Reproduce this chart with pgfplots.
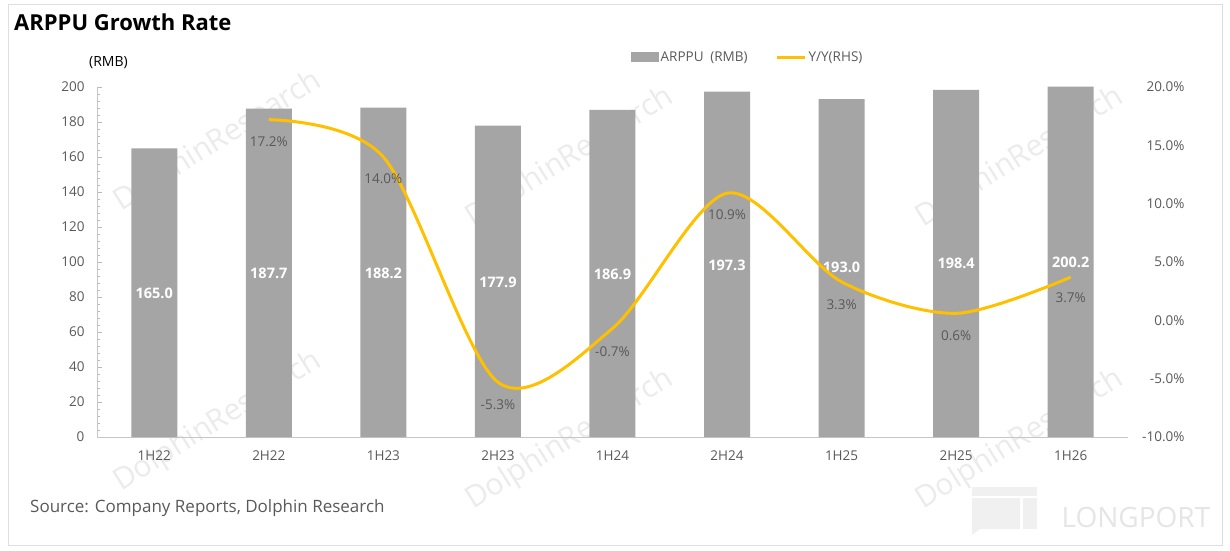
\documentclass[border=0pt]{standalone}
\usepackage{pgfplots}
\pgfplotsset{compat=1.18}
\usepackage{pgfplotstable}
\usepackage{fontspec}
\setmainfont{Open Sans}
\definecolor{bargray}{HTML}{A5A5A5}
\definecolor{gold}{HTML}{FFC000}
\definecolor{txt}{HTML}{595959}
\definecolor{wm}{HTML}{EBEBEB}
\definecolor{lp}{HTML}{F0F0F0}

\pgfplotstableread{
x v ly
0 165.0 82.3
1 187.7 93.7
2 188.2 93.7
3 177.9 88.6
4 186.9 93.1
5 197.3 98.3
6 193.0 97.1
7 198.4 99.4
8 200.2 100.0
}\bars

\pgfplotstableread{
x v ly
1 17.2 15.29
2 14.0 12.11
3 -5.3 -7.26
4 -0.7 -2.71
5 10.9 9.03
6 3.3 1.31
7 0.6 -1.34
8 3.7 1.91
}\growth

\begin{document}
\begin{tikzpicture}[x=1pt,y=1pt]
% watermarks (behind)
\begin{scope}[every node/.style={text=wm, font=\fontsize{30}{30}\selectfont, rotate=32}]
\node at (218,408) {DolphinResearch};
\node at (570,392) {DolphinResearch};
\node at (1020,392) {DolphinResearch};
\node at (218,128) {DolphinResearch};
\node at (570,110) {DolphinResearch};
\node at (1020,110) {DolphinResearch};
\end{scope}

\begin{axis}[
  at={(97pt,113pt)}, anchor=south west, scale only axis,
  width=1031pt, height=350pt,
  xmin=-0.5, xmax=8.5, ymin=0, ymax=200,
  axis x line*=bottom, axis y line*=left,
  axis line style={gray!45, line width=0.8pt},
  xtick={0,...,8},
  xticklabels={1H22,2H22,1H23,2H23,1H24,2H24,1H25,2H25,1H26},
  major x tick style={draw=none},
  ytick={0,20,...,200},
  minor y tick num=4,
  y tick style={gray!55, line width=0.6pt},
  tick align=inside,
  major tick length=5pt, minor tick length=3pt,
  ticklabel style={text=txt, font=\fontsize{13.5}{13.5}\selectfont},
  xticklabel style={yshift=-10pt},
  yticklabel style={xshift=-9pt},
  /pgf/number format/assume math mode=true,
  legend columns=2,
  legend style={draw=none, fill=none, at={(0.631,1.0857)}, anchor=center,
    font=\fontsize{13.5}{13.5}\selectfont, text=txt,
    /tikz/every even column/.append style={column sep=26pt}},
]
\addplot[ybar, bar width=46pt, bar shift=0pt, fill=bargray, draw=none,
  legend image code/.code={\fill[bargray] (0pt,-5pt) rectangle (28pt,5pt);}]
  table[x=x, y=v] {\bars};
\addlegendentry{ARPPU\enspace(RMB)}
\addlegendimage{legend image code/.code={\draw[gold, line width=3pt] (0pt,0pt) -- (28pt,0pt);}}
\addlegendentry{Y/Y(RHS)}
\addplot[draw=none, mark=none, point meta=explicit,
  nodes near coords={\pgfmathprintnumber[fixed,fixed zerofill,precision=1]{\pgfplotspointmeta}},
  nodes near coords style={anchor=center, text=white, font=\fontsize{14.5}{14.5}\selectfont\bfseries}]
  table[x=x, y=ly, meta=v] {\bars};
\end{axis}

\begin{axis}[
  at={(97pt,113pt)}, anchor=south west, scale only axis,
  width=1031pt, height=350pt,
  xmin=-0.5, xmax=8.5, ymin=-10, ymax=20,
  axis x line=none, axis y line*=right,
  y axis line style={draw=none},
  ytick={-10,-5,...,20},
  major tick length=0pt,
  yticklabel={\pgfmathprintnumber[fixed,fixed zerofill,precision=1]{\tick}\%},
  yticklabel style={anchor=east, xshift=60pt, text=txt, font=\fontsize{13.5}{13.5}\selectfont},
  /pgf/number format/assume math mode=true,
]
\addplot[gold, line width=3pt, smooth, mark=none] table[x=x, y=v] {\growth};
\addplot[draw=none, mark=none, point meta=explicit,
  nodes near coords={\pgfmathprintnumber[fixed,fixed zerofill,precision=1]{\pgfplotspointmeta}\%},
  nodes near coords style={anchor=center, text=txt, font=\fontsize{13.5}{13.5}\selectfont}]
  table[x=x, y=ly, meta=v] {\growth};
\end{axis}

% LONGPORT logo
\fill[lp] (972,54) rectangle (1037,63);
\fill[lp] (972,15) -- (980,21) -- (1020,21) -- (1020,52) -- (972,52) -- cycle;
\fill[lp] (1023,21) rectangle (1037,52);
\node[anchor=west, text=lp!90!gray, font=\fontsize{28}{28}\selectfont] at (1058,33) {LONGPORT};

\node[anchor=west, font=\fontsize{22}{22}\selectfont\bfseries, inner sep=0] at (14,528) {ARPPU Growth Rate};
\node[anchor=west, text=black, font=\fontsize{14}{14}\selectfont, inner sep=0] at (89,487) {(RMB)};
\node[anchor=west, text=txt, font=\fontsize{17}{17}\selectfont, inner sep=0] at (30,42) {Source: Company Reports, Dolphin Research};
\draw[gray!25, line width=1pt] (8,5) rectangle (1222,545);

\pgfresetboundingbox
\path[use as bounding box] (0,0) rectangle (1230,550);
\end{tikzpicture}
\end{document}
